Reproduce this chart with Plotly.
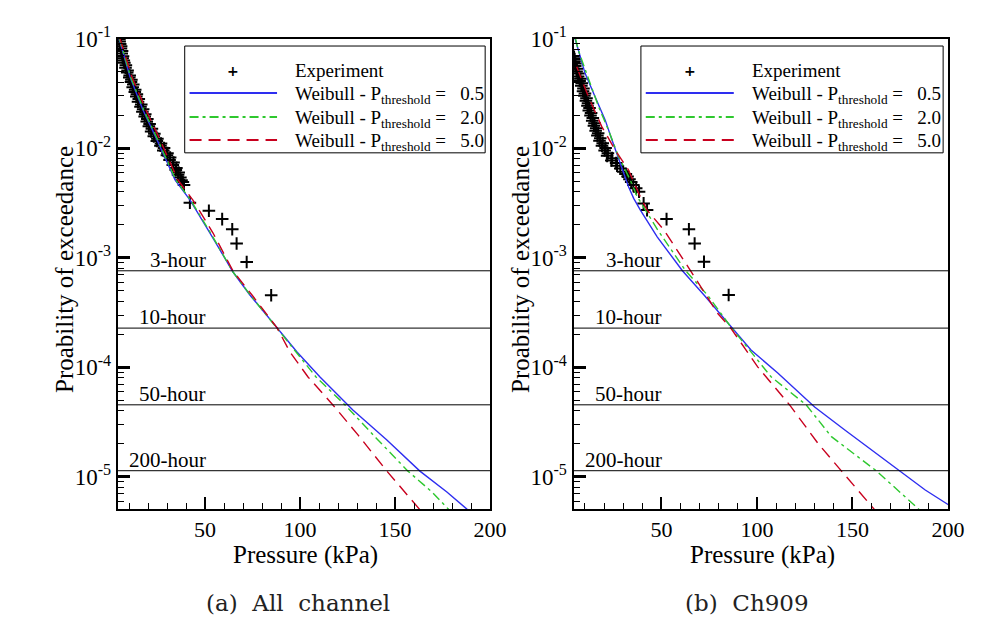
import numpy as np
import plotly.graph_objects as go

# ---------------- data ----------------
hour_labels = ["3-hour", "10-hour", "50-hour", "200-hour"]
hour_probs = [7.6e-4, 2.28e-4, 4.55e-5, 1.14e-5]

y_tickvals = [1e-5, 1e-4, 1e-3, 1e-2, 1e-1]
y_ticktext = ["10<sup>-5</sup>", "10<sup>-4</sup>", "10<sup>-3</sup>", "10<sup>-2</sup>", "10<sup>-1</sup>"]
x_tickvals = [50, 100, 150, 200]

series_names = ["Weibull - P<sub>threshold</sub> =\u00a0\u00a0\u00a00.5",
                "Weibull - P<sub>threshold</sub> =\u00a0\u00a0\u00a02.0",
                "Weibull - P<sub>threshold</sub> =\u00a0\u00a0\u00a05.0"]

# (a) All channel
a_w05_x = [4.7, 10.5, 17.3, 24.7, 34.2, 42.1, 52.6, 64.7, 73.6, 87.9, 98.4, 110.5, 127.8, 145.7, 163.1, 177.3, 187.8, 190.0]
a_w05_p = [1.0e-1, 4.46e-2, 2.23e-2, 1.19e-2, 5.12e-3, 3.36e-3, 1.68e-3, 7.41e-4, 4.57e-4, 2.29e-4, 1.38e-4, 8.17e-5, 4.08e-5, 2.17e-5, 1.13e-5, 7.28e-6, 5.09e-6, 4.6e-6]
a_w20_x = [4.9, 10.8, 17.7, 25.1, 34.6, 42.4, 52.9, 64.7, 73.8, 87.9, 97.9, 108.4, 123.7, 140.0, 156.8, 169.5, 178.0, 180.5]
a_w20_p = [1.0e-1, 4.46e-2, 2.23e-2, 1.19e-2, 5.12e-3, 3.36e-3, 1.68e-3, 7.41e-4, 4.57e-4, 2.29e-4, 1.38e-4, 8.17e-5, 4.54e-5, 2.27e-5, 1.13e-5, 7.28e-6, 5.09e-6, 4.6e-6]
a_w50_x = [5.2, 11.5, 18.9, 26.3, 35.7, 43.6, 54.2, 64.7, 74.7, 87.9, 94.7, 104.2, 117.3, 130.5, 145.7, 155.2, 163.1, 165.0]
a_w50_p = [1.0e-1, 4.46e-2, 2.23e-2, 1.19e-2, 5.12e-3, 3.36e-3, 1.68e-3, 7.57e-4, 4.57e-4, 2.29e-4, 1.38e-4, 8.17e-5, 4.54e-5, 2.42e-5, 1.13e-5, 7.28e-6, 5.09e-6, 4.6e-6]

a_exp_x = [4.9, 5.0, 5.3, 5.8, 5.7, 6.3, 6.1, 6.8, 6.6, 7.2, 7.5, 8.3, 8.1, 9.2, 9.0, 10.3, 10.1,
           11.2, 11.0, 12.2, 11.9, 13.2, 13.0, 14.1, 13.8, 15.1, 14.7, 16.4, 16.0, 17.4, 17.0, 18.5,
           18.2, 19.6, 19.3, 20.8, 20.4, 22.0, 21.6, 23.3, 23.0, 24.9, 24.6, 26.8, 26.5, 28.4, 28.0,
           30.2, 29.9, 31.6, 31.3, 33.4, 33.0, 34.9, 34.6, 36.1, 35.8, 37.0, 37.6, 38.3, 38.9,
           42.0, 52.0, 59.0, 64.3, 66.6, 71.9, 84.8]
a_exp_p = [0.0985, 0.094, 0.089, 0.085, 0.081, 0.077, 0.073, 0.069, 0.066, 0.063, 0.060, 0.057, 0.054,
           0.051, 0.049, 0.046, 0.044, 0.042, 0.040, 0.038, 0.036, 0.034, 0.0325, 0.031, 0.0295, 0.028,
           0.0265, 0.025, 0.0238, 0.0226, 0.0215, 0.0204, 0.0194, 0.0184, 0.0175, 0.0166, 0.0158, 0.015,
           0.0142, 0.0135, 0.0128, 0.0122, 0.0116, 0.011, 0.0105, 0.0100, 0.0095, 0.0090, 0.0086, 0.0082,
           0.0078, 0.0074, 0.0070, 0.0066, 0.0063, 0.0060, 0.0057, 0.0054, 0.0051, 0.0049, 0.0046,
           0.00318, 0.00268, 0.00225, 0.00182, 0.00135, 0.000914, 0.000454]

# (b) Ch909
b_w05_x = [4.8, 10.05, 15.3, 20.6, 24.1, 28.5, 32.8, 35.5, 39.0, 47.8, 61.0, 72.3, 86.4, 96.9, 110.9, 130.2, 146.0, 160.1, 175.8, 188.1, 200.4]
b_w05_p = [1.0e-1, 4.81e-2, 2.94e-2, 1.80e-2, 1.19e-2, 7.26e-3, 4.45e-3, 3.48e-3, 2.72e-3, 1.55e-3, 7.6e-4, 4.57e-4, 2.33e-4, 1.44e-4, 8.87e-5, 4.35e-5, 2.68e-5, 1.76e-5, 1.09e-5, 7.60e-6, 5.55e-6]
b_w20_x = [5.0, 6.5, 12.7, 17.1, 22.3, 27.6, 33.7, 37.3, 48.1, 62.7, 74.1, 86.4, 107.4, 125.8, 139.0, 162.7, 184.6, 186.5]
b_w20_p = [1.0e-1, 7.85e-2, 3.90e-2, 2.39e-2, 1.46e-2, 8.36e-3, 5.12e-3, 3.61e-3, 1.79e-3, 7.6e-4, 4.57e-4, 2.33e-4, 8.20e-5, 4.54e-5, 2.33e-5, 1.13e-5, 5.09e-6, 4.7e-6]
b_w50_x = [5.7, 11.8, 18.8, 25.8, 32.8, 38.1, 42.5, 51.3, 65.3, 79.4, 86.4, 100.4, 117.1, 132.0, 144.3, 161.0, 163.0]
b_w50_p = [5.53e-2, 2.94e-2, 1.57e-2, 9.62e-3, 6.31e-3, 3.87e-3, 2.72e-3, 1.79e-3, 7.6e-4, 3.11e-4, 2.27e-4, 1.01e-4, 4.54e-5, 2.02e-5, 1.13e-5, 5.19e-6, 4.7e-6]

b_exp_x = [4.3, 4.6, 4.5, 5.0, 4.9, 5.8, 5.6, 6.6, 6.4, 7.6, 7.2, 8.3, 8.1, 9.2, 9.0, 10.0, 9.7,
           10.8, 10.5, 11.6, 11.3, 12.4, 12.0, 13.2, 12.9, 14.1, 13.8, 15.0, 14.7, 15.9, 15.6, 16.9,
           16.5, 18.0, 17.6, 19.3, 18.9, 20.8, 20.3, 22.0, 21.6, 24.2, 23.8, 26.3, 26.8, 28.5, 30.0,
           31.4, 32.3, 33.3, 34.2, 35.3, 36.8, 38.3,
           40.7, 42.5, 52.7, 64.4, 67.4, 72.3, 85.2]
b_exp_p = [0.068, 0.065, 0.062, 0.059, 0.056, 0.053, 0.050, 0.048, 0.045, 0.043, 0.041, 0.039, 0.037,
           0.035, 0.033, 0.0315, 0.030, 0.0285, 0.027, 0.0257, 0.0244, 0.0232, 0.022, 0.0209, 0.0198,
           0.0188, 0.0178, 0.0169, 0.016, 0.0152, 0.0144, 0.0137, 0.013, 0.0123, 0.0117, 0.0111,
           0.0105, 0.0100, 0.0095, 0.009, 0.0085, 0.0081, 0.0077, 0.0073, 0.0069, 0.0065, 0.0061,
           0.0058, 0.0055, 0.0052, 0.0049, 0.0046, 0.0043, 0.0040,
           0.00313, 0.00272, 0.00225, 0.00182, 0.00135, 0.00092, 0.000457]

captions = ["(a)\u00a0\u00a0All\u00a0\u00a0channel", "(b)\u00a0\u00a0Ch909"]

# ---------------- styling ----------------
OFF = 8                      # page body margin of the html page
W, H = 997 - OFF, 620 - OFF  # figure size so that the page fills the window
SERIF = "Liberation Serif"
colors = ["#2e2ef0", "#2ec82e", "#c8001e"]
dashes = ["solid", "9px,4px,3px,4px", "12px,7px"]


def px(x):
    return (x - OFF) / W


def py(y):
    return 1 - (y - OFF) / H


x_dom = [[px(117.7), px(490.0)], [px(573.5), px(948.0)]]
y_dom = [py(509.0), py(38.5)]

fig = go.Figure()

panels = [
    ((a_w05_x, a_w05_p), (a_w20_x, a_w20_p), (a_w50_x, a_w50_p), (a_exp_x, a_exp_p)),
    ((b_w05_x, b_w05_p), (b_w20_x, b_w20_p), (b_w50_x, b_w50_p), (b_exp_x, b_exp_p)),
]

for i, (s05, s20, s50, exp) in enumerate(panels):
    xa = "x" if i == 0 else "x2"
    ya = "y" if i == 0 else "y2"
    fig.add_trace(go.Scatter(x=exp[0], y=exp[1], mode="markers", name="Experiment",
                             marker=dict(symbol="cross-thin", size=9, color="black",
                                         line=dict(width=2, color="black")),
                             xaxis=xa, yaxis=ya, showlegend=False))
    for k, (xs, ps) in enumerate((s05, s20, s50)):
        fig.add_trace(go.Scatter(x=xs, y=ps, mode="lines", name=series_names[k],
                                 line=dict(color=colors[k], width=1.4, dash=dashes[k]),
                                 xaxis=xa, yaxis=ya, showlegend=False))

shapes = []
annotations = []
for i in range(2):
    xa = "x" if i == 0 else "x2"
    ya = "y" if i == 0 else "y2"
    # hour reference lines + labels
    for lab, p in zip(hour_labels, hour_probs):
        shapes.append(dict(type="line", xref=xa + " domain", yref=ya, x0=0, x1=1, y0=p, y1=p,
                           line=dict(color="black", width=1)))
        annotations.append(dict(xref=xa, yref=ya, x=51.5, y=np.log10(p), text=lab,
                                showarrow=False, xanchor="right", yanchor="bottom", yshift=-3,
                                font=dict(family=SERIF, size=21, color="black")))
    # legend box
    shapes.append(dict(type="rect", xref=xa + " domain", yref=ya + " domain",
                       x0=0.18, x1=0.987, y0=0.757, y1=0.984,
                       line=dict(color="black", width=1), fillcolor="white"))
    rows = [0.9316, 0.8842, 0.8332, 0.7843]
    annotations.append(dict(xref=xa + " domain", yref=ya + " domain", x=0.31, y=rows[0],
                            text="<b>+</b>", showarrow=False, xanchor="center", yanchor="middle",
                            font=dict(family="DejaVu Sans", size=14, color="black")))
    annotations.append(dict(xref=xa + " domain", yref=ya + " domain", x=0.471, y=rows[0],
                            text="Experiment", showarrow=False, xanchor="left", yanchor="middle",
                            font=dict(family=SERIF, size=19, color="black")))
    for k in range(3):
        shapes.append(dict(type="line", xref=xa + " domain", yref=ya + " domain",
                           x0=0.193, x1=0.428, y0=rows[k + 1], y1=rows[k + 1],
                           line=dict(color=colors[k], width=2, dash=dashes[k])))
        annotations.append(dict(xref=xa + " domain", yref=ya + " domain", x=0.471, y=rows[k + 1],
                                text=series_names[k], showarrow=False, xanchor="left",
                                yanchor="middle", yshift=-2,
                                font=dict(family=SERIF, size=19, color="black")))
    # axis titles
    cx = (x_dom[i][0] + x_dom[i][1]) / 2
    annotations.append(dict(xref="paper", yref="paper", x=cx + 0.002, y=py(555),
                            text="Pressure (kPa)", showarrow=False, xanchor="center",
                            yanchor="middle", font=dict(family=SERIF, size=25, color="black")))
    annotations.append(dict(xref="paper", yref="paper", x=px(64 if i == 0 else 520),
                            y=py(270), text="Proability of exceedance", textangle=-90,
                            showarrow=False, xanchor="center", yanchor="middle",
                            font=dict(family=SERIF, size=25, color="black")))
    # captions
    annotations.append(dict(xref="paper", yref="paper", x=px(298 if i == 0 else 747),
                            y=py(603), text=captions[i], showarrow=False,
                            xanchor="center", yanchor="middle",
                            font=dict(family="DejaVu Serif", size=23, color="#222222")))

xaxis_common = dict(range=[4, 200], tickmode="array", tickvals=x_tickvals,
                    ticks="inside", ticklen=12, tickwidth=2,
                    tickcolor="black", showline=True, linewidth=2, linecolor="black", mirror=True,
                    showgrid=False, zeroline=False, automargin=False,
                    tickfont=dict(family=SERIF, size=22, color="black"),
                    minor=dict(ticks="inside", dtick=10, tick0=0, ticklen=6, tickwidth=1,
                               tickcolor="black", showgrid=False))
yaxis_common = dict(type="log", range=[np.log10(5.1e-6), -1], tickmode="array",
                    tickvals=y_tickvals, ticktext=y_ticktext,
                    ticks="inside", ticklen=12, tickwidth=2.5, tickcolor="black",
                    showline=True, linewidth=2, linecolor="black", mirror=True,
                    showgrid=False, zeroline=False, automargin=False,
                    tickfont=dict(family=SERIF, size=23, color="black"),
                    minor=dict(ticks="inside", dtick="D1", ticklen=6, tickwidth=1,
                               tickcolor="black", showgrid=False))

fig.update_layout(
    width=W, height=H, margin=dict(l=0, r=0, t=0, b=0, autoexpand=False),
    paper_bgcolor="white", plot_bgcolor="white", showlegend=False,
    xaxis=dict(domain=x_dom[0], anchor="y", **xaxis_common),
    yaxis=dict(domain=y_dom, anchor="x", **yaxis_common),
    xaxis2=dict(domain=x_dom[1], anchor="y2", **xaxis_common),
    yaxis2=dict(domain=y_dom, anchor="x2", **yaxis_common),
    shapes=shapes, annotations=annotations,
)

fig.write_html("out.html")
